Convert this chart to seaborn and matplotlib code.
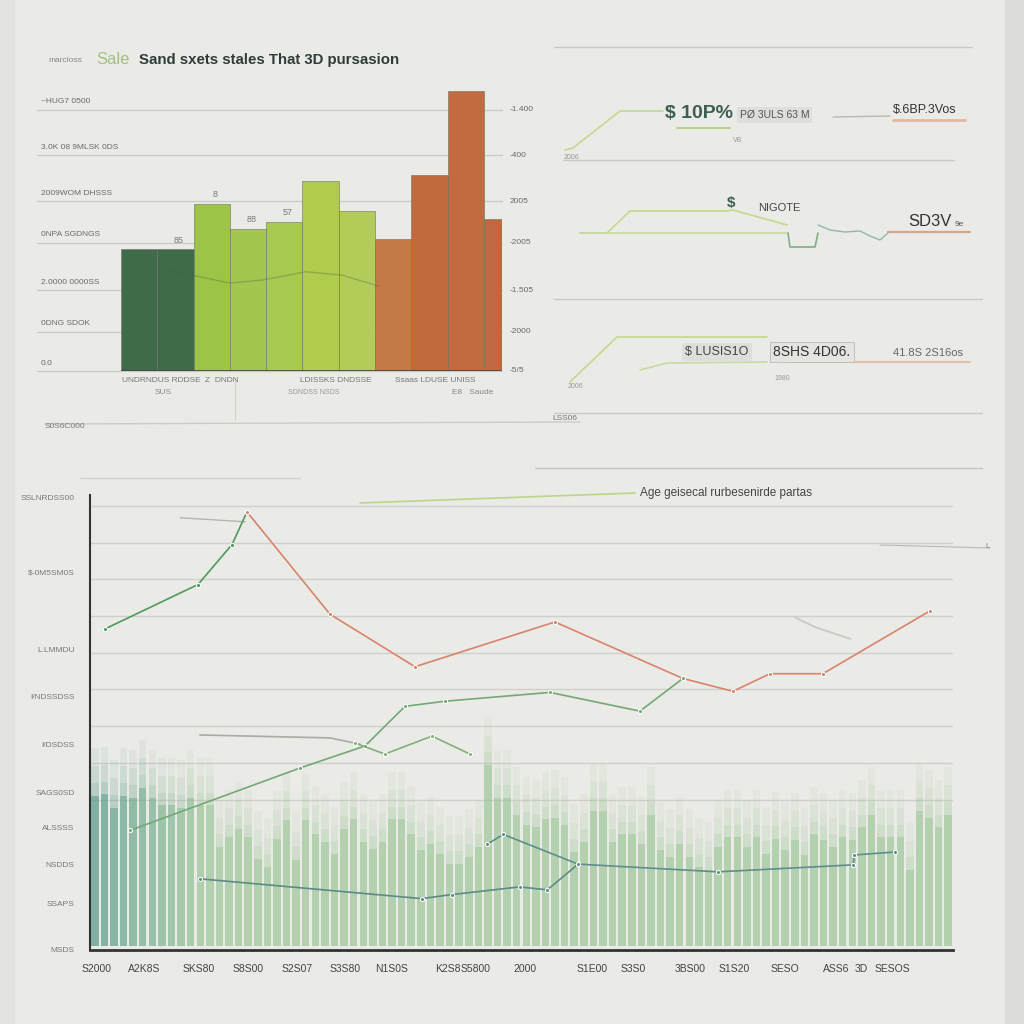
import numpy as np
import pandas as pd
import seaborn as sns
import matplotlib.pyplot as plt
from matplotlib.lines import Line2D
from matplotlib.patches import Rectangle

# ---- top-left bar chart ----
bar_cats = ["b1", "b2", "b3", "b4", "b5", "b6", "b7", "b8", "b9", "b10", "b11"]
bar_vals = [2.8, 2.8, 3.84, 3.27, 3.43, 4.37, 3.68, 3.04, 4.5, 6.43, 3.5]
bar_colors = ["#3f6b4b", "#3f6b4b", "#9dc447", "#a3c64e", "#a8c94f", "#b1cb4c",
              "#b3cb58", "#c47a45", "#c06a3e", "#c26a40", "#c0683f"]
bar_grid = [0, 0.9, 1.85, 2.95, 3.9, 4.95, 6.0]
bar_left_labels = ["~HUG7 0500", "3.0K 08 9MLSK 0DS", "2009WOM DHSSS", "0NPA SGDNGS",
                   "2.0000 0000SS", "0DNG SDOK", "0.0"]
bar_right_labels = ["-1.400", "-400", "2005", "-2005", "-1.505", "-2000", "-5/5"]
bar_top_notes = ["85", "8", "88", "57"]
inner_x = [0.64, 2.5, 3.4, 4.6, 5.6, 6.6]
inner_y = [2.34, 2.02, 2.09, 2.28, 2.2, 1.95]

# ---- top-right sparklines ----
s1_x = [2.5, 3.3, 8.0, 12.3]
s1_y = [27.0, 27.2, 30.9, 30.9]
s2_x = [4.0, 6.7, 9.0, 18.7, 19.3, 24.7]
s2_y = [18.7, 18.7, 20.9, 20.9, 21.0, 19.5]
s2_box_x = [24.8, 25.0, 27.5, 27.8]
s2_box_y = [18.7, 17.3, 17.3, 18.7]
s2_wig_x = [27.8, 29.0, 30.5, 32.0, 33.0, 34.0, 34.8]
s2_wig_y = [19.5, 19.0, 18.8, 18.9, 18.4, 18.0, 18.7]
s3_x = [3.0, 7.7, 22.7]
s3_y = [3.8, 8.3, 8.3]
s3_low_x = [10.0, 12.7, 22.7]
s3_low_y = [5.0, 5.7, 5.8]

# ---- bottom chart ----
hist_vals = [4.11, 4.14, 3.78, 4.11, 4.05, 4.32, 4.05, 3.84, 3.84, 3.78, 4.05, 3.84, 3.84,
             2.70, 2.97, 3.19, 2.97, 2.38, 2.16, 2.92, 3.43, 2.35, 3.43, 3.05, 2.84, 2.51,
             3.19, 3.46, 2.84, 2.65, 2.84, 3.46, 3.46, 3.05, 2.62, 2.78, 2.51, 2.24, 2.24,
             2.43, 2.70, 4.95, 4.05, 4.05, 3.59,
             3.32, 3.24, 3.46, 3.51, 3.32, 2.57, 2.84, 3.70, 3.70, 2.84, 3.05, 3.05, 2.78,
             3.59, 2.62, 2.43, 2.78, 2.43, 2.16, 2.08, 2.70, 2.97, 2.97, 2.70, 2.97, 2.51,
             2.92, 2.62, 2.89, 2.49, 3.05, 2.89, 2.70, 2.97, 2.89, 3.24, 3.59, 2.97, 2.97,
             2.97, 2.08, 3.70, 3.51, 3.24, 3.59]
main_x = [1.06, 10.76, 14.31, 15.87]
main_y = [8.65, 9.86, 10.95, 11.84]
red_x = [15.87, 24.53, 33.39, 47.99, 61.33, 66.55, 70.41, 75.93, 87.09]
red_y = [11.84, 9.05, 7.62, 8.84, 7.30, 6.95, 7.43, 7.43, 9.14]
green2_x = [3.67, 21.40, 28.18, 32.35, 36.52, 47.47, 56.85, 61.33]
green2_y = [3.16, 4.86, 5.46, 6.54, 6.68, 6.92, 6.41, 7.30]
green3_x = [27.13, 30.26, 35.16, 39.12]
green3_y = [5.54, 5.24, 5.73, 5.24]
grey_x = [10.97, 24.53, 27.65]
grey_y = [5.76, 5.68, 5.51]
tealA_x = [10.97, 34.1, 37.2, 44.3, 47.2, 50.4]
tealA_y = [1.84, 1.30, 1.41, 1.62, 1.54, 2.24]
tealB_x = [40.9, 42.6, 50.4, 65.0, 79.1, 79.2, 83.4]
tealB_y = [2.78, 3.05, 2.24, 2.03, 2.22, 2.49, 2.57]
faint1_x = [8.9, 15.7]
faint1_y = [11.68, 11.57]
faint2_x = [73.0, 75.1, 78.8]
faint2_y = [8.97, 8.70, 8.38]
y_tick_pos = [12.24, 10.2, 8.1, 6.8, 5.5, 4.2, 3.24, 2.24, 1.16, -0.1]
y_tick_labels = ["SSLNRDSS00", "$-0M5SM0S", "L.LMMDU", "I/NDSSDSS", "I/DSDSS",
                 "SAGS0SD", "ALSSSS", "NSDDS", "SSAPS", "MSDS"]
x_tick_pos = [0.2, 5.2, 10.8, 16.0, 21.1, 26.1, 30.9, 36.8, 39.7, 44.9, 51.9, 56.2,
              62.1, 66.7, 72.0, 77.3, 79.9, 83.2]
x_tick_labels = ["S2000", "A2K8S", "SKS80", "S8S00", "S2S07", "S3S80", "N1S0S", "K2S8",
                 "S5800", "2000", "S1E00", "S3S0", "3BS00", "S1S20", "SESO", "ASS6", "3D", "SESOS"]

sns.set_theme(style="white")
plt.rcParams["font.family"] = ["Liberation Sans Narrow", "Liberation Sans", "DejaVu Sans"]

W = 1024
fig = plt.figure(figsize=(10.24, 10.24), dpi=100, facecolor="#eaeae6")
fig.add_artist(Rectangle((1005 / W, 0), 19 / W, 1, transform=fig.transFigure,
                         color="#dcdcd8", zorder=0))
fig.add_artist(Rectangle((0, 0), 14 / W, 1, transform=fig.transFigure,
                         color="#e3e3df", zorder=0))


def fline(x0, x1, y0, y1, color="#c9c9c5", lw=1.0):
    fig.add_artist(Line2D([x0 / W, x1 / W], [1 - y0 / W, 1 - y1 / W],
                          transform=fig.transFigure, color=color, lw=lw))


def ftext(x, y, s, **kw):
    fig.text(x / W, 1 - y / W, s, va="center", **kw)


# title
ftext(48, 60, "marcloss", fontsize=6, color="#888")
ftext(96, 60, "Sale", fontsize=12, color="#a6bf80")
ftext(139, 60, "Sand sxets stales That 3D pursasion", fontsize=10.8,
      fontweight="bold", color="#2f3b3a")

# ---- bar chart ----
ax_bar = fig.add_axes([121 / W, 1 - 371 / W, 381 / W, 283 / W])
ax_bar.set_facecolor("none")
for g in bar_grid:
    ax_bar.axhline(g, xmin=-0.22, xmax=1.0, color="#c8c8c4", lw=0.9,
                   clip_on=False, zorder=0)
sns.barplot(x=bar_cats, y=bar_vals, hue=bar_cats, palette=bar_colors, legend=False,
            width=1.0, edgecolor="#6f6f66", linewidth=0.4, saturation=1, ax=ax_bar)
sns.lineplot(x=inner_x, y=inner_y, color="#3f5d3f", alpha=0.3, lw=1, sort=False,
             estimator=None, ax=ax_bar)
ax_bar.set_xlim(-0.5, 10.0)
ax_bar.set_ylim(0, 6.5)
ax_bar.axis("off")
ax_bar.axhline(0, color="#44444a", lw=1.2, xmin=0, xmax=1.0)
ytr = ax_bar.get_yaxis_transform()
for g, lab in zip(bar_grid[::-1], bar_left_labels):
    ax_bar.text(-0.21, g + 0.1, lab, transform=ytr, fontsize=6, color="#6a6a66",
                ha="left", va="bottom")
for g, lab in zip(bar_grid[::-1], bar_right_labels):
    ax_bar.text(1.02, g, lab, transform=ytr, fontsize=6, color="#6a6a66",
                ha="left", va="center")
for xi, lab in zip([1, 2, 3, 4], bar_top_notes):
    ax_bar.text(xi + 0.1, bar_vals[xi] + 0.15, lab, fontsize=6.5, color="#777",
                ha="center")
ftext(122, 381, "UNDRNDUS RDDSE", fontsize=6, color="#777")
ftext(155, 392, "SUS", fontsize=6, color="#888")
ftext(205, 381, "Z  DNDN", fontsize=6, color="#777")
ftext(300, 381, "LDISSKS DNDSSE", fontsize=6, color="#777")
ftext(288, 392, "SDNDSS NSDS", fontsize=5, color="#999")
ftext(395, 381, "Ssaas LDUSE UNISS", fontsize=6, color="#777")
ftext(452, 392, "E8   Saude", fontsize=6, color="#888")
fline(235, 235, 378, 420, color="#cfd8c4", lw=0.8)
fline(45, 580, 424, 422, color="#cbcbc7")
ftext(45, 427, "S0S6C000", fontsize=6, color="#777")
ftext(552, 418, "LSS06", fontsize=6, color="#777")

# ---- top-right sparklines ----
ax_tr = fig.add_axes([540 / W, 1 - 420 / W, 460 / W, 380 / W])
ax_tr.set_facecolor("none")
ax_tr.set_xlim(0, 46)
ax_tr.set_ylim(0, 38)
ax_tr.axis("off")
for yy, a, b in [(37.3, 0.03, 0.94), (26.0, 0.05, 0.90), (12.1, 0.03, 0.96), (0.7, 0.03, 0.96)]:
    ax_tr.axhline(yy, xmin=a, xmax=b, color="#c9c9c5", lw=1)
lg = "#c3d98c"
sns.lineplot(x=s1_x, y=s1_y, color=lg, lw=1.2, sort=False, estimator=None, ax=ax_tr)
ax_tr.plot([13.7, 19.0], [29.2, 29.2], color="#b7d48a", lw=1.5)
ax_tr.plot([29.3, 35.0], [30.3, 30.4], color="#b9b9b3", lw=1)
ax_tr.plot([35.3, 42.5], [30.0, 30.0], color="#e0b9a0", lw=2)
sns.lineplot(x=s2_x, y=s2_y, color=lg, lw=1.2, sort=False, estimator=None, ax=ax_tr)
ax_tr.plot([4.0, 24.7], [18.7, 18.7], color="#c7d8a6", lw=1.2)
sns.lineplot(x=s2_box_x, y=s2_box_y, color="#7fae84", lw=1.2, sort=False,
             estimator=None, ax=ax_tr)
sns.lineplot(x=s2_wig_x, y=s2_wig_y, color="#8fb8aa", lw=1, sort=False,
             estimator=None, ax=ax_tr)
ax_tr.plot([34.8, 43.0], [18.8, 18.8], color="#d7a58c", lw=1.6)
sns.lineplot(x=s3_x, y=s3_y, color=lg, lw=1.2, sort=False, estimator=None, ax=ax_tr)
sns.lineplot(x=s3_low_x, y=s3_low_y, color="#c8dba0", lw=1.2, sort=False,
             estimator=None, ax=ax_tr)
ax_tr.plot([25.0, 43.0], [5.8, 5.8], color="#e2c3ad", lw=1.6)

box = dict(boxstyle="square,pad=0.25", fc="#dededa", ec="none")
ax_tr.text(12.5, 30.6, "$ 10P%", fontsize=14, color="#3d5f52", fontweight="bold",
           va="center")
ax_tr.text(20.0, 30.5, "PØ 3ULS 63 M", fontsize=7.5, color="#555", va="center", bbox=box)
ax_tr.text(35.3, 31.0, "$.6BP.3Vos", fontsize=9, color="#333", va="center")
ax_tr.text(19.3, 27.8, "VB", fontsize=5, color="#999")
ax_tr.text(2.4, 26.1, "2006", fontsize=5, color="#999")
ax_tr.text(18.7, 21.7, "$", fontsize=11, color="#3d5f52", fontweight="bold", va="center")
ax_tr.text(21.8, 21.2, "NIGOTE", fontsize=8, color="#444", va="center")
ax_tr.text(36.8, 19.8, "SD3V", fontsize=12, color="#333", va="center")
ax_tr.text(41.5, 19.6, "9e", fontsize=6, color="#555", va="center")
ax_tr.text(14.5, 6.8, "$ LUSIS1O", fontsize=9, color="#444", va="center", bbox=box)
ax_tr.text(23.3, 6.8, "8SHS 4D06.", fontsize=10, color="#333", va="center",
           bbox=dict(boxstyle="square,pad=0.25", fc="#e4e4e0", ec="#bbbbb5", lw=0.6))
ax_tr.text(35.3, 6.7, "41.8S 2S16os", fontsize=8, color="#666", va="center")
ax_tr.text(23.4, 4.0, "1980", fontsize=5, color="#999")
ax_tr.text(2.8, 3.2, "2006", fontsize=5, color="#999")

# ---- bottom chart ----
fline(535, 982, 468, 468, color="#c6c6c2")
fline(80, 300, 478, 478, color="#d0d0cc")
fline(360, 635, 503, 493, color="#b9d68a", lw=1.2)
ftext(640, 493, "Age geisecal rurbesenirde partas", fontsize=8.5, color="#444")
fline(880, 990, 545, 548, color="#b8b8b4", lw=0.8)
ftext(985, 546, "L", fontsize=5, color="#777")

ax = fig.add_axes([90 / W, 1 - 950 / W, 863 / W, 455 / W])
ax.set_facecolor("none")
for g in range(4, 13):
    ax.axhline(g, color="#cfcfcb", lw=1, zorder=0)

idx = np.arange(len(hist_vals))
hv = np.array(hist_vals)
teal = np.array([0.30, 0.58, 0.52])
pale = np.array([0.60, 0.78, 0.58])
mix = np.clip(idx / 12.0, 0, 1)[:, None]
hcols = [tuple(c) for c in teal * (1 - mix) + pale * mix]
df = pd.DataFrame({"i": idx, "h": hv})
for extra, alpha in [(1.3, 0.09), (0.8, 0.12), (0.35, 0.16), (0.0, 0.5)]:
    sns.barplot(data=df.assign(h=df["h"] + extra), x="i", y="h", hue="i",
                palette=hcols, legend=False, native_scale=True, width=0.78,
                alpha=alpha, linewidth=0, saturation=1, ax=ax)

lw = 1.2
sns.lineplot(x=faint1_x, y=faint1_y, color="#b5b5b0", lw=1, sort=False, estimator=None, ax=ax)
sns.lineplot(x=faint2_x, y=faint2_y, color="#cbcbc6", lw=1.4, sort=False, estimator=None, ax=ax)
sns.lineplot(x=grey_x, y=grey_y, color="#a8aca4", lw=lw, sort=False, estimator=None, ax=ax)
sns.lineplot(x=main_x, y=main_y, color="#4e9a5c", lw=lw, marker="o", markersize=3,
             sort=False, estimator=None, ax=ax)
sns.lineplot(x=red_x, y=red_y, color="#d9836c", lw=lw, marker="o", markersize=3,
             sort=False, estimator=None, ax=ax)
sns.lineplot(x=green2_x, y=green2_y, color="#74a877", lw=lw, marker="o", markersize=3,
             sort=False, estimator=None, ax=ax)
sns.lineplot(x=green3_x, y=green3_y, color="#84b07e", lw=lw, marker="o", markersize=3,
             sort=False, estimator=None, ax=ax)
sns.lineplot(x=tealA_x, y=tealA_y, color="#5d8b86", lw=lw, marker="o", markersize=3,
             sort=False, estimator=None, ax=ax)
sns.lineplot(x=tealB_x, y=tealB_y, color="#5f8e8c", lw=lw, marker="o", markersize=3,
             sort=False, estimator=None, ax=ax)

ax.set_xlim(-0.5, len(hist_vals) - 0.5)
ax.set_ylim(0, 12.3)
for s in ["top", "right"]:
    ax.spines[s].set_visible(False)
ax.spines["left"].set_color("#333")
ax.spines["bottom"].set_color("#333")
ax.spines["left"].set_linewidth(1.5)
ax.spines["bottom"].set_linewidth(2)
ax.set_yticks(y_tick_pos)
ax.set_yticklabels(y_tick_labels, fontsize=6, color="#777")
ax.set_xticks(x_tick_pos)
ax.set_xticklabels(x_tick_labels, fontsize=7.5, color="#444")
ax.tick_params(axis="x", length=0, pad=10)
ax.tick_params(axis="y", length=0, pad=11)
ax.set_xlabel("")
ax.set_ylabel("")

fig.savefig("out.png", dpi=100, facecolor=fig.get_facecolor())
